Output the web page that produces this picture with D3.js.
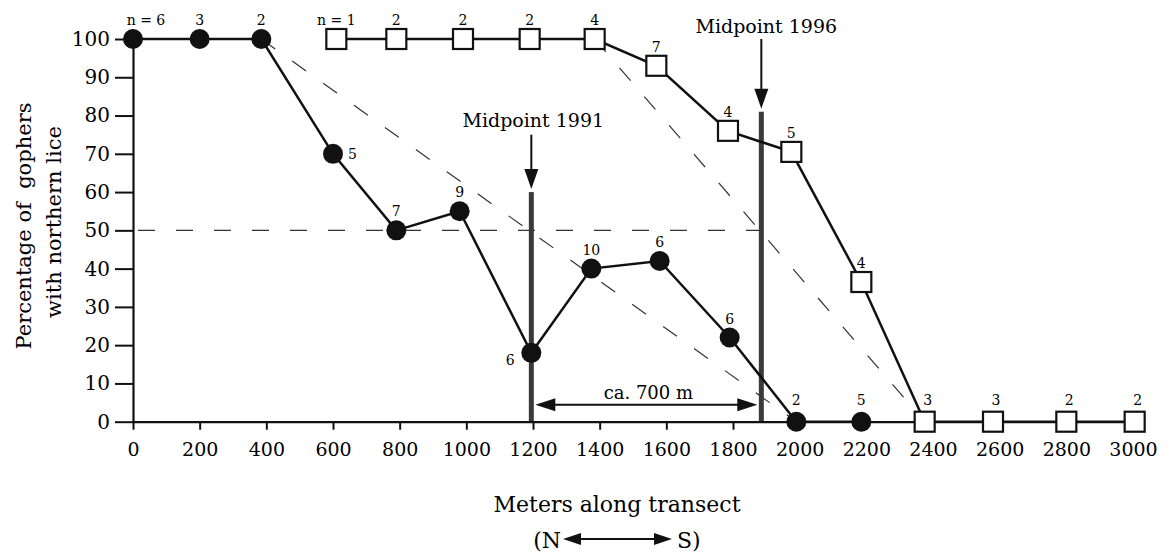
<!DOCTYPE html>
<html>
<head>
<meta charset="utf-8">
<script src="https://cdn.jsdelivr.net/npm/d3@7"></script>
<style>
  body { margin: 0; background: #fff; }
  text { font-family: "DejaVu Serif", serif; fill: #000; }
</style>
</head>
<body>
<div id="chart"></div>
<script>
// 1991 survey (filled circles)
const meters1991 = [0, 200, 385, 600, 790, 980, 1195, 1375, 1580, 1790, 1990, 2185];
const pct1991 = [100, 100, 100, 70, 50, 55, 18, 40, 42, 22, 0, 0];
const n1991 = [6, 3, 2, 5, 7, 9, 6, 10, 6, 6, 2, 5];

// 1996 survey (open squares)
const meters1996 = [610, 790, 990, 1190, 1385, 1570, 1785, 1975, 2185, 2375, 2580, 2800, 3005];
const pct1996 = [100, 100, 100, 100, 100, 93, 76, 70.5, 36.5, 0, 0, 0, 0];
const n1996 = [1, 2, 2, 2, 4, 7, 4, 5, 4, 3, 3, 2, 2];

const xTicks = d3.range(0, 3001, 200);
const yTicks = d3.range(0, 101, 10);

// cline midpoints and the straight-line fits through them
const midpoints = [
  { label: "Midpoint 1991", m: 1195, top: 60, arrowFrom: 75, textAt: 77 },
  { label: "Midpoint 1996", m: 1885, top: 81, arrowFrom: 100, textAt: 101.5 }
];
const fitLines = [[385, 100, 1990, 0], [1385, 100, 2375, 0]];
const halfLevel = 50;
const shiftLabel = "ca. 700 m";

const W = 1168, H = 554;
const svg = d3.select("#chart").append("svg")
  .attr("width", W).attr("height", H);

const x = d3.scaleLinear().domain([0, 3000]).range([133, 1133]);
const y = d3.scaleLinear().domain([0, 100]).range([421.7, 39]);

const dash = "17,21";

// dashed reference lines
svg.append("line")
  .attr("x1", x(0) + 5).attr("x2", x(midpoints[1].m))
  .attr("y1", y(halfLevel)).attr("y2", y(halfLevel))
  .attr("stroke", "#333").attr("stroke-width", 1.2).attr("stroke-dasharray", dash);

fitLines.forEach(f => {
  svg.append("line")
    .attr("x1", x(f[0])).attr("y1", y(f[1]))
    .attr("x2", x(f[2])).attr("y2", y(f[3]))
    .attr("stroke", "#333").attr("stroke-width", 1.2).attr("stroke-dasharray", dash);
});

// midpoint bars + arrows + labels
function arrowHead(tipX, tipY, dir, len, half) {
  // dir: "down", "left", "right"
  if (dir === "down") return `M${tipX},${tipY}L${tipX - half},${tipY - len}L${tipX + half},${tipY - len}Z`;
  if (dir === "left") return `M${tipX},${tipY}L${tipX + len},${tipY - half}L${tipX + len},${tipY + half}Z`;
  return `M${tipX},${tipY}L${tipX - len},${tipY - half}L${tipX - len},${tipY + half}Z`;
}

midpoints.forEach((mp, i) => {
  const bx = x(mp.m);
  svg.append("rect")
    .attr("x", bx - 2.5).attr("width", 5)
    .attr("y", y(mp.top)).attr("height", y(0) - y(mp.top))
    .attr("fill", "#3a3a3a");
  const tip = y(mp.top) - 3;
  svg.append("line")
    .attr("x1", bx).attr("x2", bx)
    .attr("y1", y(mp.arrowFrom)).attr("y2", tip - 18)
    .attr("stroke", "#111").attr("stroke-width", 2);
  svg.append("path").attr("d", arrowHead(bx, tip, "down", 20, 7)).attr("fill", "#111");
  svg.append("text")
    .attr("x", bx + (i === 1 ? 5 : 2)).attr("y", y(mp.textAt))
    .attr("text-anchor", "middle").attr("font-size", 19)
    .text(mp.label);
});

// ca. 700 m double arrow
{
  const x1 = x(midpoints[0].m) + 4, x2 = x(midpoints[1].m) - 4, ay = y(4.4);
  svg.append("line").attr("x1", x1 + 18).attr("x2", x2 - 18)
    .attr("y1", ay).attr("y2", ay).attr("stroke", "#111").attr("stroke-width", 2);
  svg.append("path").attr("d", arrowHead(x1, ay, "left", 20, 6.5)).attr("fill", "#111");
  svg.append("path").attr("d", arrowHead(x2, ay, "right", 20, 6.5)).attr("fill", "#111");
  svg.append("text").attr("x", (x1 + x2) / 2 + 2).attr("y", y(5.9))
    .attr("text-anchor", "middle").attr("font-size", 18).text(shiftLabel);
}

// axes
const yAxis = svg.append("g")
  .attr("transform", `translate(${x(0)},0)`)
  .call(d3.axisLeft(y).tickValues(yTicks).tickSize(18).tickPadding(5).tickSizeOuter(0));
const xAxis = svg.append("g")
  .attr("transform", `translate(0,${y(0)})`)
  .call(d3.axisBottom(x).tickValues(xTicks).tickFormat(d3.format("d"))
    .tickSize(8).tickPadding(13).tickSizeOuter(0));

[yAxis, xAxis].forEach(g => {
  g.select(".domain").attr("stroke", "#111").attr("stroke-width", 2.2);
  g.selectAll(".tick line").attr("stroke", "#111").attr("stroke-width", 2);
  g.selectAll(".tick text").attr("fill", "#000")
    .style("font-family", '"DejaVu Serif", serif');
});
yAxis.selectAll(".tick text").attr("font-size", 20);
xAxis.selectAll(".tick text").attr("font-size", 19);

// series lines
const line = d3.line().x(d => x(d[0])).y(d => y(d[1]));
const pts1991 = meters1991.map((m, i) => [m, pct1991[i]]);
const pts1996 = meters1996.map((m, i) => [m, pct1996[i]]);

svg.append("path").datum(pts1996).attr("d", line)
  .attr("fill", "none").attr("stroke", "#111").attr("stroke-width", 2.5);
svg.append("path").datum(pts1991).attr("d", line)
  .attr("fill", "none").attr("stroke", "#111").attr("stroke-width", 2.5);

// markers
svg.selectAll("rect.sq").data(pts1996).enter().append("rect")
  .attr("class", "sq")
  .attr("x", d => x(d[0]) - 10).attr("y", d => y(d[1]) - 10)
  .attr("width", 20).attr("height", 20)
  .attr("fill", "#fff").attr("stroke", "#111").attr("stroke-width", 2.2);

svg.selectAll("circle.dot").data(pts1991).enter().append("circle")
  .attr("class", "dot")
  .attr("cx", d => x(d[0])).attr("cy", d => y(d[1])).attr("r", 10)
  .attr("fill", "#111");

// sample size labels
function nLabel(n, i) { return i === 0 ? "n = " + n : String(n); }

svg.selectAll("text.n91").data(pts1991).enter().append("text")
  .attr("class", "n91")
  .attr("font-size", 14)
  .attr("text-anchor", (d, i) => i === 3 ? "start" : "middle")
  .attr("x", (d, i) => x(d[0]) + (i === 0 ? 13 : i === 3 ? 15 : i === 6 ? -21 : 0))
  .attr("y", (d, i) => y(d[1]) + (i === 3 ? 5 : i === 6 ? 12 : d[1] === 0 ? -17 : -14))
  .text((d, i) => nLabel(n1991[i], i));

svg.selectAll("text.n96").data(pts1996).enter().append("text")
  .attr("class", "n96")
  .attr("font-size", 14)
  .attr("text-anchor", "middle")
  .attr("x", (d, i) => x(d[0]) + (d[1] === 0 ? 3 : 0))
  .attr("y", d => y(d[1]) + (d[1] === 0 ? -17 : -14))
  .text((d, i) => nLabel(n1996[i], i));

// axis titles
const cx = (x(0) + x(3000)) / 2 - 16;
svg.append("text").attr("x", cx).attr("y", 512)
  .attr("text-anchor", "middle").attr("font-size", 22)
  .text("Meters along transect");

svg.append("text").attr("x", cx - 56).attr("y", 548)
  .attr("text-anchor", "end").attr("font-size", 22).text("(N");
svg.append("text").attr("x", cx + 60).attr("y", 548)
  .attr("text-anchor", "start").attr("font-size", 22).text("S)");
{
  const a1 = cx - 54, a2 = cx + 55, ay = 539;
  svg.append("line").attr("x1", a1 + 16).attr("x2", a2 - 16)
    .attr("y1", ay).attr("y2", ay).attr("stroke", "#111").attr("stroke-width", 2);
  svg.append("path").attr("d", arrowHead(a1, ay, "left", 18, 6)).attr("fill", "#111");
  svg.append("path").attr("d", arrowHead(a2, ay, "right", 18, 6)).attr("fill", "#111");
}

const yTitle = svg.append("g").attr("transform", "translate(0,226) rotate(-90)");
yTitle.append("text").attr("x", 0).attr("y", 31)
  .attr("text-anchor", "middle").attr("font-size", 21)
  .style("white-space", "pre").text("Percentage of  gophers");
yTitle.append("text").attr("x", 4).attr("y", 61)
  .attr("text-anchor", "middle").attr("font-size", 21)
  .text("with northern lice");
</script>
</body>
</html>
